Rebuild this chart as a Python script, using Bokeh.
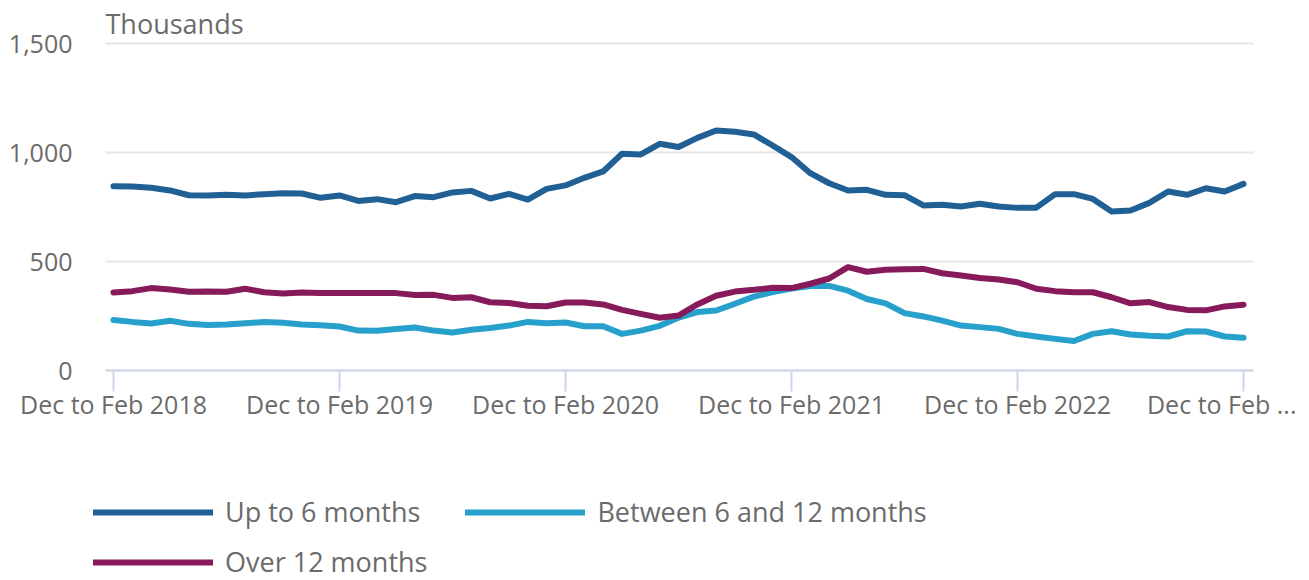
from bokeh.plotting import figure
from bokeh.models import (Range1d, FixedTicker, NumeralTickFormatter, Legend, LegendItem, Label)
from bokeh.embed import file_html
from bokeh.resources import INLINE

# ---- data (thousands) ----
periods = list(range(61))  # Dec to Feb 2018 ... Dec to Feb 2023 (rolling 3-month periods)
tick_positions = [0, 12, 24, 36, 48, 60]
tick_labels = ["Dec to Feb 2018", "Dec to Feb 2019", "Dec to Feb 2020",
               "Dec to Feb 2021", "Dec to Feb 2022", "Dec to Feb ...\u00a0\u00a0"]

up_to_6 = [845, 844, 838, 826, 804, 803, 806, 803, 809, 813, 812, 792, 803, 778, 786, 772,
           800, 795, 817, 824, 789, 810, 784, 833, 849, 884, 913, 994, 991, 1040, 1025, 1067,
           1101, 1095, 1083, 1032, 979, 905, 859, 826, 829, 806, 804, 757, 760, 752, 765, 752,
           746, 747, 809, 809, 787, 729, 734, 769, 821, 806, 836, 821, 856]
between_6_12 = [232, 223, 216, 228, 214, 209, 211, 217, 222, 219, 211, 208, 202, 183, 182, 190,
                197, 183, 174, 187, 195, 206, 223, 217, 220, 203, 203, 168, 183, 205, 242, 268,
                275, 306, 339, 360, 376, 388, 388, 366, 328, 308, 263, 248, 229, 206, 199, 191,
                168, 156, 145, 135, 168, 180, 165, 159, 156, 180, 179, 156, 150]
over_12 = [358, 364, 378, 372, 361, 362, 361, 375, 359, 353, 358, 355, 355, 355, 355, 355,
           346, 347, 333, 336, 313, 310, 297, 295, 312, 312, 303, 278, 260, 242, 252, 303,
           343, 362, 370, 380, 378, 398, 422, 474, 453, 462, 464, 466, 446, 436, 424, 417,
           405, 375, 364, 359, 359, 336, 308, 314, 291, 278, 276, 294, 302]

series_names = ["Up to 6 months", "Between 6 and 12 months", "Over 12 months"]
colors = ["#206095", "#27a0cc", "#871a5b"]

FONT = "Open Sans"
TXT = "#6b6b6b"

# plotting band in data units; the frame covers the whole canvas so axis labels,
# unit label and legend are all drawn inside it
X_LO, X_HI = -0.425, 60.531

p = figure(width=1309, height=580, output_backend="svg", toolbar_location=None, title=None,
           x_range=Range1d(-6.0, 63.5044), y_range=Range1d(-963.3, 1697.25),
           min_border_left=0, min_border_right=0, min_border_top=0, min_border_bottom=0)
p.outline_line_color = None
p.background_fill_color = "white"
p.border_fill_color = "white"

r1 = p.line(periods, up_to_6, line_color=colors[0], line_width=6, line_join="round", line_cap="round")
r2 = p.line(periods, between_6_12, line_color=colors[1], line_width=6, line_join="round", line_cap="round")
r3 = p.line(periods, over_12, line_color=colors[2], line_width=6, line_join="round", line_cap="round")

# grid
p.xgrid.grid_line_color = None
p.ygrid.grid_line_color = "#e6e6e6"
p.ygrid.grid_line_width = 2
p.ygrid.cross_bounds = (X_LO, X_HI)

# y axis, drawn at the left edge of the plotting band
p.yaxis.fixed_location = X_LO
p.yaxis.ticker = FixedTicker(ticks=[0, 500, 1000, 1500])
p.yaxis.formatter = NumeralTickFormatter(format="0,0")
p.yaxis.axis_line_color = None
p.yaxis.major_tick_line_color = None
p.yaxis.minor_tick_line_color = None
p.yaxis.major_tick_in = 0
p.yaxis.major_tick_out = 0
p.yaxis.major_label_standoff = 33
p.yaxis.major_label_text_font = FONT
p.yaxis.major_label_text_font_size = "25px"
p.yaxis.major_label_text_color = TXT

# x axis, drawn at y = 0
p.xaxis.fixed_location = 0
p.xaxis.bounds = (X_LO, X_HI)
p.xaxis.ticker = FixedTicker(ticks=tick_positions)
p.xaxis.major_label_overrides = {t: l for t, l in zip(tick_positions, tick_labels)}
p.xaxis.axis_line_color = "#ccd6eb"
p.xaxis.axis_line_width = 2
p.xaxis.major_tick_line_color = "#ccd6eb"
p.xaxis.major_tick_line_width = 2
p.xaxis.major_tick_in = 0
p.xaxis.major_tick_out = 21
p.xaxis.minor_tick_line_color = None
p.xaxis.major_label_standoff = -5
p.xaxis.major_label_text_font = FONT
p.xaxis.major_label_text_font_size = "25px"
p.xaxis.major_label_text_color = TXT

# unit label above the top gridline
p.add_layout(Label(x=X_LO, y=1592, text="Thousands", text_font=FONT,
                   text_font_size="27px", text_color=TXT, text_baseline="alphabetic",
                   text_align="left"))

# legends
common = dict(orientation="horizontal", padding=0, margin=0, border_line_color=None,
              background_fill_alpha=0, glyph_width=120,
              label_standoff=12, spacing=45, label_text_font=FONT, label_text_font_size="27px",
              label_text_color=TXT, label_text_baseline="middle")
leg1 = Legend(items=[LegendItem(label=series_names[0], renderers=[r1]),
                     LegendItem(label=series_names[1], renderers=[r2])],
              location=(93, 50), glyph_height=34, label_height=34, **common)
leg2 = Legend(items=[LegendItem(label=series_names[2], renderers=[r3])],
              location=(93, 0), glyph_height=30, label_height=30, **common)
p.add_layout(leg1, "center")
p.add_layout(leg2, "center")

open("out.html", "w").write(file_html(p, INLINE))
